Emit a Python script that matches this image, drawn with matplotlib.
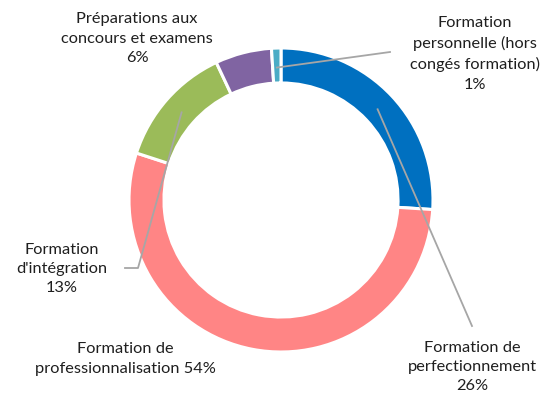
import numpy as np
import matplotlib.pyplot as plt

# Data
labels = ["Formation de\nperfectionnement\n26%",
          "Formation de\nprofessionnalisation 54%",
          "Formation\nd'intégration\n13%",
          "Préparations aux\nconcours et examens\n6%",
          "Formation\npersonnelle (hors\ncongés formation)\n1%"]
values = [26, 54, 13, 6, 1]
colors = ['#0070C0', '#FF8585', '#9BBB59', '#8064A2', '#4BACC6']

# label centres in pixel coords (x, y from top) and leader line ends
label_pos = [(472, 367), (125, 359), (62, 269), (137, 39), (475, 54)]
leader_end = [(472, 326), None, (125, 268), None, (390, 52)]
leader_knee = [None, None, (138, 268), None, None]

W, H = 558, 401
cx, cy, R = 281, 200, 152
ring = 0.23

fig = plt.figure(figsize=(W / 100, H / 100), dpi=100)
ax = fig.add_axes([0, 0, 1, 1])

wedges, _ = ax.pie(values, colors=colors, startangle=90, counterclock=False,
                   center=(cx, H - cy), radius=R,
                   wedgeprops=dict(width=R * ring, edgecolor='white', linewidth=2.2))
ax.set_xlim(0, W)
ax.set_ylim(0, H)
ax.set_aspect('equal')
ax.axis('off')

font = dict(family=['Lato', 'DejaVu Sans'], fontsize=11.8, color='#1F1F1F')
for w, lab, pos, end, knee in zip(wedges, labels, label_pos, leader_end, leader_knee):
    ax.text(pos[0], H - pos[1], lab, ha='center', va='center',
            linespacing=1.5, **font)
    if end is None:
        continue
    ang = np.deg2rad((w.theta1 + w.theta2) / 2)
    r = R * (1 - ring / 2) - 2
    xs = [cx + r * np.cos(ang)]
    ys = [H - cy + r * np.sin(ang)]
    if knee is not None:
        xs.append(knee[0])
        ys.append(H - knee[1])
    xs.append(end[0])
    ys.append(H - end[1])
    ax.plot(xs, ys, color='#A6A6A6', lw=1.3, zorder=3)

fig.savefig('out.png', dpi=100)
